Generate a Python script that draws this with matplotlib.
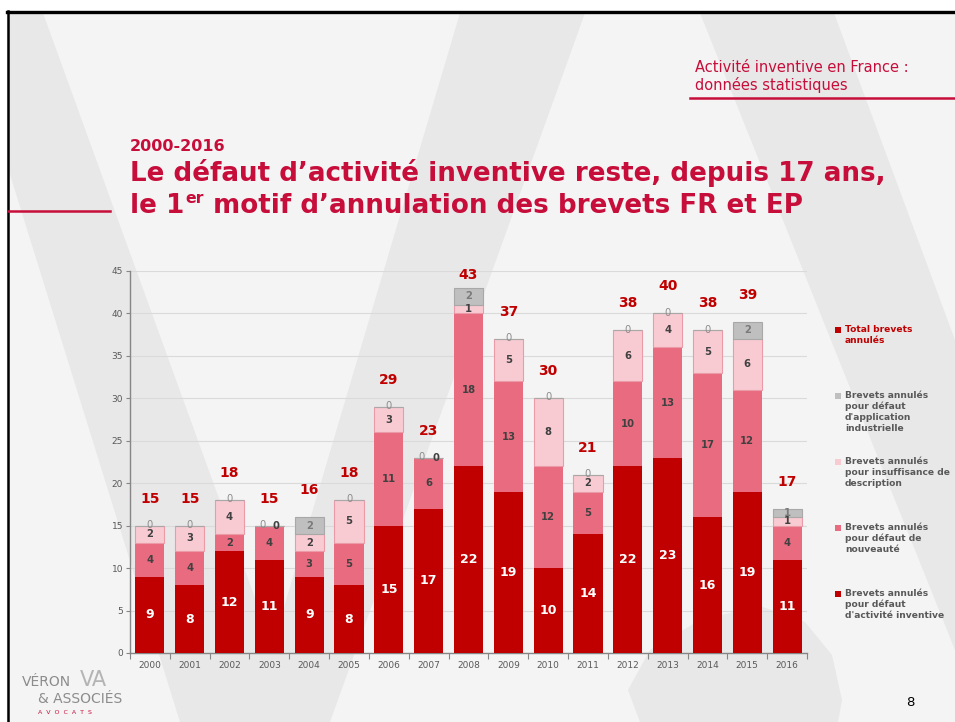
import matplotlib

matplotlib.use("Agg")
import matplotlib.pyplot as plt
import numpy as np
from matplotlib.patches import Polygon, Rectangle

# data
years = [str(y) for y in range(2000, 2017)]
inventive = [9, 8, 12, 11, 9, 8, 15, 17, 22, 19, 10, 14, 22, 23, 16, 19, 11]
nouveaute = [4, 4, 2, 4, 3, 5, 11, 6, 18, 13, 12, 5, 10, 13, 17, 12, 4]
description = [2, 3, 4, 0, 2, 5, 3, 0, 1, 5, 8, 2, 6, 4, 5, 6, 1]
application = [0, 0, 0, 0, 2, 0, 0, 0, 2, 0, 0, 0, 0, 0, 0, 2, 1]
totals = [15, 15, 18, 15, 16, 18, 29, 23, 43, 37, 30, 21, 38, 40, 38, 39, 17]

legend_labels = [
    "Total brevets\nannulés",
    "Brevets annulés\npour défaut\nd'application\nindustrielle",
    "Brevets annulés\npour insuffisance de\ndescription",
    "Brevets annulés\npour défaut de\nnouveauté",
    "Brevets annulés\npour défaut\nd'activité inventive",
]

RED = "#c70d3a"
C_INV = "#c00000"
C_NOUV = "#e96b7f"
C_DESC = "#f8cbd3"
C_APP = "#bfbfbf"
BG = "#f4f4f4"
BAND = "#e8e8e8"
AXC = "#868686"

W, H = 955, 722


def fx(x):
    return x / W


def fy(y):
    return 1 - y / H


fig = plt.figure(figsize=(9.55, 7.22), dpi=100, facecolor="white")

# --- slide background ------------------------------------------------------
fig.add_artist(Rectangle((fx(7), 0), 1, fy(11), transform=fig.transFigure,
                         color=BG, zorder=-10))
bands = [
    [(8, 13), (43, 13), (300, 722), (180, 722), (8, 168)],
    [(460, 13), (585, 13), (330, 722), (250, 722)],
    [(700, 13), (834, 13), (955, 340), (955, 650)],
    [(640, 722), (628, 690), (650, 650), (700, 620), (760, 606), (805, 622),
     (832, 655), (842, 700), (838, 722)],
]
for pts in bands:
    fig.add_artist(Polygon([(fx(x), fy(y)) for x, y in pts], closed=True,
                           transform=fig.transFigure, color=BAND, lw=0, zorder=-9))
fig.add_artist(plt.Line2D([fx(7), 1], [fy(12), fy(12)], transform=fig.transFigure,
                          color="black", lw=2.4, zorder=-8))
fig.add_artist(plt.Line2D([fx(8), fx(8)], [0, fy(11)], transform=fig.transFigure,
                          color="black", lw=1.8, zorder=-8))

# --- header ------------------------------------------------------------------
narrow = ["Liberation Sans Narrow", "DejaVu Sans"]
fig.text(fx(695), fy(67), "Activité inventive en France :", fontsize=10.5,
         color=RED, family=narrow, va="center")
fig.text(fx(695), fy(85), "données statistiques", fontsize=10.5,
         color=RED, family=narrow, va="center")
fig.add_artist(plt.Line2D([fx(690), 1], [fy(98), fy(98)], transform=fig.transFigure,
                          color=RED, lw=1.8))
fig.add_artist(plt.Line2D([fx(8), fx(110)], [fy(211), fy(211)], transform=fig.transFigure,
                          color=RED, lw=1.8))

# --- titles --------------------------------------------------------------------
renderer = fig.canvas.get_renderer()
fig.text(fx(130), fy(151), "2000-2016", fontsize=11.5, weight="bold", color=RED,
         va="baseline")
t1 = fig.text(fx(130), fy(181), "Le défaut d’activité inventive reste, depuis 17 ans,",
              fontsize=19, weight="bold", color=RED, va="baseline")
w1 = t1.get_window_extent(renderer).width
fs = 19 * (885 - 130) / w1
t1.set_fontsize(fs)
t2a = fig.text(fx(130), fy(213), "le 1", fontsize=fs, weight="bold", color=RED,
               va="baseline")
xa = t2a.get_window_extent(renderer).x1 + 1
t2b = fig.text(xa / W, fy(203), "er", fontsize=fs * 0.6, weight="bold", color=RED,
               va="baseline")
xb = t2b.get_window_extent(renderer).x1
fig.text(xb / W, fy(213), " motif d’annulation des brevets FR et EP", fontsize=fs,
         weight="bold", color=RED, va="baseline")

# --- chart ---------------------------------------------------------------------
ax = fig.add_axes([fx(130), fy(653), fx(807) - fx(130), (653 - 271) / H])
ax.patch.set_alpha(0)
x = np.arange(len(years))
bw = 0.73

inv = np.array(inventive)
nov = np.array(nouveaute)
des = np.array(description)
app = np.array(application)

ax.bar(x, inv, bw, color=C_INV, lw=0, zorder=3)
ax.bar(x, nov, bw, bottom=inv, color=C_NOUV, lw=0, zorder=3)
ax.bar(x, des, bw, bottom=inv + nov, color=C_DESC, edgecolor="#eb9aa8", lw=0.8, zorder=3)
ax.bar(x, app, bw, bottom=inv + nov + des, color=C_APP, edgecolor="#a8a8a8", lw=0.8, zorder=3)

for i in range(len(years)):
    ax.text(i, inv[i] / 2, str(inv[i]), ha="center", va="center", color="white",
            fontsize=9, weight="bold", zorder=5)
    ax.text(i, inv[i] + nov[i] / 2, str(nov[i]), ha="center", va="center",
            color="#404040", fontsize=7.2, weight="bold", zorder=5)
    both0 = des[i] == 0 and app[i] == 0
    dx = 0.17 if both0 else 0
    ax.text(i + dx, inv[i] + nov[i] + des[i] / 2, str(des[i]), ha="center", va="center",
            color="#404040", fontsize=7.2, weight="bold", zorder=5)
    if app[i] == 0:
        ax.text(i - dx, totals[i] + 0.1, "0", ha="center", va="center",
                color="#8c8c8c", fontsize=7.2, zorder=5)
    else:
        ax.text(i, inv[i] + nov[i] + des[i] + app[i] / 2, str(app[i]), ha="center",
                va="center", color="#7a7a7a", fontsize=7.2, weight="bold", zorder=5)
    ax.text(i, min(totals[i] + 3.2, 44.5), str(totals[i]), ha="center", va="center",
            color=C_INV, fontsize=10, weight="bold", zorder=5)

ax.set_xlim(-0.5, len(years) - 0.5)
ax.set_ylim(0, 45)
ax.set_yticks(range(0, 46, 5))
ax.set_xticks(x)
ax.set_xticklabels(years)
ax.set_xticks(np.arange(-0.5, len(years), 1), minor=True)
ax.tick_params(axis="x", which="major", length=0, pad=6, labelsize=6.5, labelcolor="#595959")
ax.tick_params(axis="x", which="minor", length=4, color=AXC, width=0.8)
ax.tick_params(axis="y", length=3, color=AXC, width=0.8, pad=2, labelsize=6.5,
               labelcolor="#595959")
for s in ("top", "right"):
    ax.spines[s].set_visible(False)
for s in ("left", "bottom"):
    ax.spines[s].set_color(AXC)
    ax.spines[s].set_linewidth(1)
ax.yaxis.grid(True, color="#dadada", lw=0.8, zorder=0)
ax.set_axisbelow(True)

# --- legend (right side) -----------------------------------------------------------
leg_colors = [C_INV, C_APP, C_DESC, C_NOUV, C_INV]
leg_text_colors = [C_INV, "#595959", "#595959", "#595959", "#595959"]
leg_y = [330, 396, 462, 528, 594]
for lab, c, tc, y in zip(legend_labels, leg_colors, leg_text_colors, leg_y):
    fig.add_artist(Rectangle((fx(835), fy(y + 3)), 6 / W, 6 / H, transform=fig.transFigure,
                             color=c, lw=0))
    fig.text(fx(845), fy(y - 5.5), lab, fontsize=6.6, weight="bold", color=tc,
             va="top", linespacing=1.3)

# --- footer --------------------------------------------------------------------------
fig.text(fx(22), fy(682), "VÉRON", fontsize=10, color="#8c8c8c", va="center")
fig.text(fx(80), fy(680), "VA", fontsize=15, color="#b4b4b4", va="center")
fig.text(fx(38), fy(699), "& ASSOCIÉS", fontsize=10, color="#8c8c8c", va="center")
fig.text(fx(38), fy(713), "A  V  O  C  A  T  S", fontsize=4.5, color=RED, va="center")
fig.text(fx(906), fy(703), "8", fontsize=9.5, color="black", va="center")

fig.savefig("out.png", dpi=100, facecolor="white")
